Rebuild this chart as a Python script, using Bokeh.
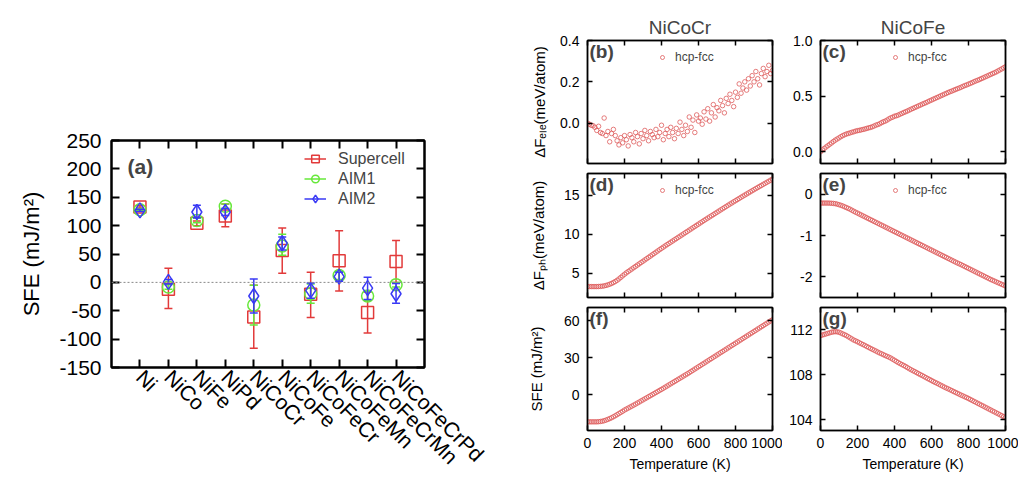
from math import pi
from bokeh.plotting import figure
from bokeh.models import (Range1d, FixedTicker, LinearAxis, Label, Legend, LegendItem, Span,
                          NumeralTickFormatter)
from bokeh.layouts import row, column
from bokeh.embed import file_html
from bokeh.resources import INLINE

FONT = "Liberation Sans"

# ---------------- panel (a) data ----------------
categories = ["Ni", "NiCo", "NiFe", "NiPd", "NiCoCr", "NiCoFe", "NiCoFeCr", "NiCoFeMn", "NiCoFeCrMn", "NiCoFeCrPd"]
supercell = [133, -12, 104, 117, -61, 56, -21, 38, -53, 37]
supercell_lo = [131, -46, 100, 98, -116, 16, -62, -15, -89, 0]
supercell_hi = [135, 25, 108, 138, -5, 96, 18, 91, -17, 74]
aim1 = [128, -8, 109, 134, -40, 64, -20, 12, -24, -4]
aim1_lo = [126, -12, 105, 130, -75, 48, -37, 5, -32, -8]
aim1_hi = [130, -4, 113, 138, -5, 85, -3, 19, -16, 0]
aim2 = [127, 1, 124, 124, -24, 69, -14, 10, -10, -20]
aim2_lo = [125, -3, 114, 118, -54, 57, -28, 2, -30, -37]
aim2_hi = [129, 5, 136, 130, 6, 80, -1, 18, 9, -2]
sfe_ticks = [-150, -100, -50, 0, 50, 100, 150, 200, 250]

# ---------------- panels (b)-(g) data (temperature every 10 K) ----------------
T = list(range(0, 1001, 10))
dF_ele_NiCoCr = [0.000, -0.005, -0.010, -0.012, -0.020, -0.035, -0.015, -0.045, -0.050, 0.025,
                 -0.060, -0.040, -0.090, -0.050, -0.030, -0.060, -0.085, -0.105, -0.070, -0.095,
                 -0.060, -0.080, -0.110, -0.055, -0.070, -0.090, -0.045, -0.065, -0.100, -0.050,
                 -0.075, -0.035, -0.060, -0.085, -0.040, -0.055, -0.070, -0.030, -0.065, -0.045,
                 -0.010, -0.080, -0.050, -0.030, -0.065, -0.020, -0.045, -0.075, -0.025, -0.050,
                 0.005, -0.030, -0.060, -0.010, -0.040, 0.030, -0.020, 0.015, -0.045, 0.040,
                 0.010, 0.025, -0.005, 0.055, 0.020, 0.070, 0.010, 0.050, 0.090, 0.030,
                 0.075, 0.060, 0.110, 0.085, 0.050, 0.120, 0.095, 0.140, 0.110, 0.080,
                 0.150, 0.125, 0.190, 0.145, 0.170, 0.200, 0.160, 0.215, 0.180, 0.230,
                 0.200, 0.250, 0.215, 0.185, 0.240, 0.265, 0.225, 0.250, 0.280, 0.240, 0.255]
dF_ele_NiCoFe = [0.000, 0.016, 0.030, 0.043, 0.055, 0.068, 0.080, 0.093, 0.105, 0.115,
                 0.125, 0.136, 0.145, 0.153, 0.160, 0.165, 0.170, 0.176, 0.180, 0.186,
                 0.190, 0.193, 0.197, 0.201, 0.205, 0.210, 0.215, 0.219, 0.225, 0.232,
                 0.240, 0.245, 0.252, 0.262, 0.270, 0.276, 0.285, 0.296, 0.305, 0.311,
                 0.320, 0.324, 0.330, 0.338, 0.345, 0.353, 0.360, 0.367, 0.375, 0.383,
                 0.390, 0.398, 0.405, 0.413, 0.420, 0.428, 0.435, 0.442, 0.450, 0.458,
                 0.465, 0.473, 0.480, 0.488, 0.495, 0.503, 0.510, 0.518, 0.525, 0.533,
                 0.540, 0.546, 0.553, 0.560, 0.567, 0.573, 0.580, 0.588, 0.595, 0.601,
                 0.608, 0.615, 0.622, 0.630, 0.637, 0.643, 0.650, 0.658, 0.665, 0.673,
                 0.680, 0.688, 0.695, 0.703, 0.710, 0.718, 0.727, 0.736, 0.745, 0.755, 0.765]
dF_ph_NiCoCr = [3.30, 3.30, 3.30, 3.30, 3.30, 3.30, 3.31, 3.33, 3.35, 3.39,
                3.45, 3.52, 3.60, 3.70, 3.82, 3.95, 4.10, 4.28, 4.48, 4.68,
                4.88, 5.06, 5.23, 5.40, 5.56, 5.73, 5.89, 6.06, 6.22, 6.39,
                6.55, 6.72, 6.88, 7.05, 7.21, 7.38, 7.54, 7.71, 7.87, 8.04,
                8.20, 8.36, 8.52, 8.68, 8.83, 8.99, 9.14, 9.30, 9.45, 9.61,
                9.76, 9.92, 10.07, 10.23, 10.38, 10.54, 10.69, 10.85, 11.00, 11.16,
                11.31, 11.47, 11.62, 11.78, 11.93, 12.08, 12.23, 12.38, 12.53, 12.68,
                12.83, 12.98, 13.13, 13.28, 13.43, 13.58, 13.73, 13.88, 14.02, 14.17,
                14.31, 14.46, 14.60, 14.75, 14.89, 15.03, 15.17, 15.31, 15.45, 15.59,
                15.73, 15.87, 16.00, 16.14, 16.27, 16.41, 16.54, 16.68, 16.81, 16.95, 17.08]
dF_ph_NiCoFe = [-0.210, -0.210, -0.210, -0.210, -0.210, -0.212, -0.215, -0.219, -0.225, -0.236,
                -0.250, -0.264, -0.280, -0.300, -0.320, -0.340, -0.360, -0.385, -0.410, -0.433,
                -0.455, -0.478, -0.500, -0.523, -0.545, -0.568, -0.590, -0.613, -0.635, -0.658,
                -0.680, -0.703, -0.725, -0.748, -0.770, -0.793, -0.815, -0.838, -0.860, -0.883,
                -0.905, -0.928, -0.950, -0.973, -0.995, -1.018, -1.040, -1.063, -1.085, -1.108,
                -1.130, -1.153, -1.175, -1.198, -1.220, -1.243, -1.265, -1.288, -1.310, -1.333,
                -1.355, -1.378, -1.400, -1.423, -1.445, -1.468, -1.490, -1.513, -1.535, -1.558,
                -1.580, -1.603, -1.625, -1.648, -1.670, -1.690, -1.710, -1.733, -1.755, -1.778,
                -1.800, -1.823, -1.845, -1.868, -1.890, -1.913, -1.935, -1.958, -1.980, -2.003,
                -2.025, -2.048, -2.070, -2.090, -2.110, -2.130, -2.150, -2.170, -2.190, -2.210, -2.230]
SFE_NiCoCr = [-21.8, -21.8, -21.8, -21.8, -21.8, -21.8, -21.7, -21.5, -21.3, -20.9,
              -20.4, -19.8, -19.2, -18.5, -17.7, -16.9, -16.0, -15.1, -14.2, -13.3,
              -12.3, -11.5, -10.7, -9.9, -9.1, -8.3, -7.5, -6.6, -5.8, -4.9,
              -4.1, -3.2, -2.4, -1.5, -0.7, 0.2, 1.0, 1.9, 2.7, 3.6,
              4.4, 5.3, 6.2, 7.1, 8.0, 8.9, 9.8, 10.7, 11.6, 12.5,
              13.4, 14.3, 15.2, 16.1, 17.0, 17.9, 18.9, 19.8, 20.8, 21.7,
              22.7, 23.6, 24.6, 25.5, 26.5, 27.4, 28.4, 29.3, 30.3, 31.2,
              32.2, 33.1, 34.1, 35.0, 36.0, 36.9, 37.9, 38.8, 39.8, 40.7,
              41.7, 42.6, 43.6, 44.5, 45.5, 46.4, 47.4, 48.3, 49.3, 50.2,
              51.2, 52.1, 53.1, 54.0, 55.0, 55.9, 56.9, 57.8, 58.8, 59.7, 60.6]
SFE_NiCoFe = [111.50, 111.55, 111.60, 111.65, 111.70, 111.75, 111.80, 111.83, 111.85, 111.83,
              111.80, 111.73, 111.65, 111.58, 111.50, 111.40, 111.30, 111.20, 111.10, 111.03,
              110.95, 110.86, 110.78, 110.70, 110.62, 110.53, 110.45, 110.36, 110.28, 110.20,
              110.12, 110.03, 109.95, 109.88, 109.80, 109.72, 109.65, 109.58, 109.50, 109.40,
              109.30, 109.20, 109.10, 109.01, 108.92, 108.84, 108.75, 108.65, 108.55, 108.46,
              108.37, 108.29, 108.20, 108.11, 108.02, 107.94, 107.85, 107.76, 107.67, 107.59,
              107.50, 107.41, 107.33, 107.25, 107.17, 107.08, 107.00, 106.91, 106.83, 106.76,
              106.68, 106.60, 106.52, 106.44, 106.36, 106.28, 106.20, 106.13, 106.05, 105.98,
              105.90, 105.81, 105.73, 105.64, 105.56, 105.47, 105.39, 105.30, 105.22, 105.13,
              105.05, 104.96, 104.88, 104.79, 104.71, 104.62, 104.54, 104.45, 104.37, 104.28, 104.20]
T_ticks = [0, 200, 400, 600, 800, 1000]

RED = "#e23a3a"
GREEN = "#66e83a"
BLUE = "#3a3af5"
PT = "#dd5555"


def hyphen_labels(ticks):
    # plain ASCII hyphen for negative tick labels, as in the original figure
    return {t: str(t) for t in ticks if t < 0}


def style_axis(ax, size, tick, lw, hide=False):
    ax.major_tick_in = tick
    ax.major_tick_out = 0
    ax.minor_tick_line_color = None
    ax.axis_line_color = "black"
    ax.axis_line_width = lw
    ax.major_tick_line_color = "black"
    ax.major_tick_line_width = lw
    ax.major_label_text_font = FONT
    ax.major_label_text_font_size = size
    ax.major_label_text_color = "black"
    ax.axis_label_text_font = FONT
    ax.axis_label_text_font_style = "normal"
    ax.axis_label_text_color = "black"
    if hide:
        ax.major_label_text_font_size = "0px"
        ax.major_label_text_color = None
        ax.major_label_standoff = 0


# ---------------- panel (a) ----------------
xs = list(range(1, len(categories) + 1))
pa = figure(width=500, height=479, x_range=Range1d(0, 11), y_range=Range1d(-150, 250),
            output_backend="svg", toolbar_location=None,
            min_border_left=111, min_border_right=76, min_border_top=140, min_border_bottom=108)
pa.xgrid.visible = False
pa.ygrid.visible = False
pa.outline_line_color = "black"
pa.outline_line_width = 2

ax = pa.xaxis[0]
ax.ticker = FixedTicker(ticks=xs)
ax.major_label_overrides = {i: c for i, c in zip(xs, categories)}
ax.major_label_orientation = -pi / 4
style_axis(ax, "21px", 8, 2)
ax.major_label_standoff = 6
ay = pa.yaxis[0]
ay.ticker = FixedTicker(ticks=sfe_ticks)
ay.major_label_overrides = hyphen_labels(sfe_ticks)
style_axis(ay, "21px", 8, 2)
ay.major_label_standoff = 10
ay.axis_label = "SFE (mJ/m²)"
ay.axis_label_text_font_size = "22px"
ay.axis_label_standoff = 12
top = LinearAxis(ticker=FixedTicker(ticks=xs))
style_axis(top, "21px", 8, 2, hide=True)
pa.add_layout(top, "above")
right = LinearAxis(ticker=FixedTicker(ticks=sfe_ticks))
style_axis(right, "21px", 8, 2, hide=True)
pa.add_layout(right, "right")

pa.add_layout(Span(location=0, dimension="width", line_color="#888888", line_dash="2 2", line_width=1))

items = []
for name, vals, lo, hi, col, mk, sz in [
        ("Supercell", supercell, supercell_lo, supercell_hi, RED, "square", 12),
        ("AIM1", aim1, aim1_lo, aim1_hi, GREEN, "circle", 12),
        ("AIM2", aim2, aim2_lo, aim2_hi, BLUE, "diamond", 15)]:
    seg = pa.segment(x0=xs, y0=lo, x1=xs, y1=hi, line_color=col, line_width=1.5)
    pa.scatter(xs, lo, marker="dash", size=8, line_color=col, line_width=1.5)
    pa.scatter(xs, hi, marker="dash", size=8, line_color=col, line_width=1.5)
    mr = pa.scatter(xs, vals, marker=mk, size=sz, fill_color=None, line_color=col, line_width=1.5)
    items.append(LegendItem(label=name, renderers=[seg, mr]))

leg = Legend(items=items, location=(193, 159))
leg.background_fill_alpha = 0
leg.border_line_color = None
leg.padding = 0
leg.margin = 0
leg.spacing = 1
leg.glyph_width = 22
leg.glyph_height = 19
leg.label_height = 19
leg.label_standoff = 12
leg.label_text_font = FONT
leg.label_text_font_size = "16px"
pa.add_layout(leg)
pa.add_layout(Label(x=16, y=213, x_units="screen", y_units="screen", text="(a)",
                    text_font=FONT, text_font_size="21px", text_font_style="bold",
                    text_baseline="top"))


# ---------------- panels (b)-(g) ----------------
def panel(Tv, vals, yr, yticks, fmt, width, height, bl, br, bt, bb, fh, tag,
          title=None, show_x=False, legend=True, ylab=None, ylab_standoff=10):
    p = figure(width=width, height=height, x_range=Range1d(0, 1000), y_range=Range1d(*yr),
               output_backend="svg", toolbar_location=None,
               min_border_left=bl, min_border_right=br, min_border_top=bt, min_border_bottom=bb)
    p.xgrid.visible = False
    p.ygrid.visible = False
    p.outline_line_color = "#222222"
    p.outline_line_width = 1.5
    if title:
        p.title.text = title
        p.title.align = "center"
        p.title.text_font = FONT
        p.title.text_font_size = "19px"
        p.title.text_font_style = "normal"
        p.title.standoff = 6
    ax = p.xaxis[0]
    ax.ticker = FixedTicker(ticks=T_ticks)
    style_axis(ax, "14px", 5, 1.5, hide=not show_x)
    if show_x:
        ax.major_label_standoff = 7
        ax.axis_label = "Temperature (K)"
        ax.axis_label_text_font_size = "14px"
        ax.axis_label_standoff = 5
    ay = p.yaxis[0]
    ay.ticker = FixedTicker(ticks=yticks)
    if fmt:
        ay.formatter = NumeralTickFormatter(format=fmt)
    else:
        ay.major_label_overrides = hyphen_labels(yticks)
    style_axis(ay, "14px", 5, 1.5)
    ay.major_label_standoff = 8
    if ylab:
        ay.axis_label = ylab
        ay.axis_label_text_font_size = "15px"
        ay.axis_label_standoff = ylab_standoff
    t = LinearAxis(ticker=FixedTicker(ticks=T_ticks))
    style_axis(t, "14px", 5, 1.5, hide=True)
    p.add_layout(t, "above")
    r = LinearAxis(ticker=FixedTicker(ticks=yticks))
    style_axis(r, "14px", 5, 1.5, hide=True)
    p.add_layout(r, "right")
    rend = p.scatter(Tv, vals, marker="circle", size=4.5, fill_color=None, line_color=PT,
                     line_width=0.9, line_alpha=0.85)
    if legend:
        lg = Legend(items=[LegendItem(label="hcp-fcc", renderers=[rend])], location=(70, fh - 24))
        lg.background_fill_alpha = 0
        lg.border_line_color = None
        lg.padding = 0
        lg.margin = 0
        lg.glyph_width = 10
        lg.glyph_height = 14
        lg.label_height = 14
        lg.label_standoff = 8
        lg.label_text_font = FONT
        lg.label_text_font_size = "12px"
        p.add_layout(lg)
    p.add_layout(Label(x=2, y=fh, x_units="screen", y_units="screen", text=tag,
                       text_font=FONT, text_font_size="19px", text_font_style="bold",
                       text_baseline="top"))
    return p


LW, RW = 282, 236
pb = panel(T, dF_ele_NiCoCr, (-0.195, 0.4), [0.0, 0.2, 0.4], "0.0", LW, 168, 87, 10, 40, 5, 123, "(b)",
           title="NiCoCr", ylab="ΔFₑₗₑ(meV/atom)", ylab_standoff=9)
pc = panel(T, dF_ele_NiCoFe, (-0.105, 1.0), [0.0, 0.5, 1.0], "0.0", RW, 168, 38, 13, 40, 5, 123, "(c)",
           title="NiCoFe")
pd_ = panel(T, dF_ph_NiCoCr, (1.9, 17.8), [5, 10, 15], None, LW, 134, 87, 10, 5, 5, 124, "(d)",
            ylab="ΔFₚₕ(meV/atom)", ylab_standoff=14)
pe = panel(T, dF_ph_NiCoFe, (-2.51, 0.51), [-2, -1, 0], None, RW, 134, 38, 13, 5, 5, 124, "(e)")
pf = panel(T, SFE_NiCoCr, (-28.8, 70.5), [0, 30, 60], None, LW, 177, 87, 10, 5, 49, 123, "(f)",
           show_x=True, legend=False, ylab="SFE (mJ/m²)", ylab_standoff=16)
pg = panel(T, SFE_NiCoFe, (103.05, 114.0), [104, 108, 112], None, RW, 177, 38, 13, 5, 49, 123, "(g)",
           show_x=True, legend=False)

right_side = column(row(pb, pc), row(pd_, pe), row(pf, pg))
layout = row(pa, right_side)

html = file_html(layout, INLINE, "SFE")
open("out.html", "w").write(html)
